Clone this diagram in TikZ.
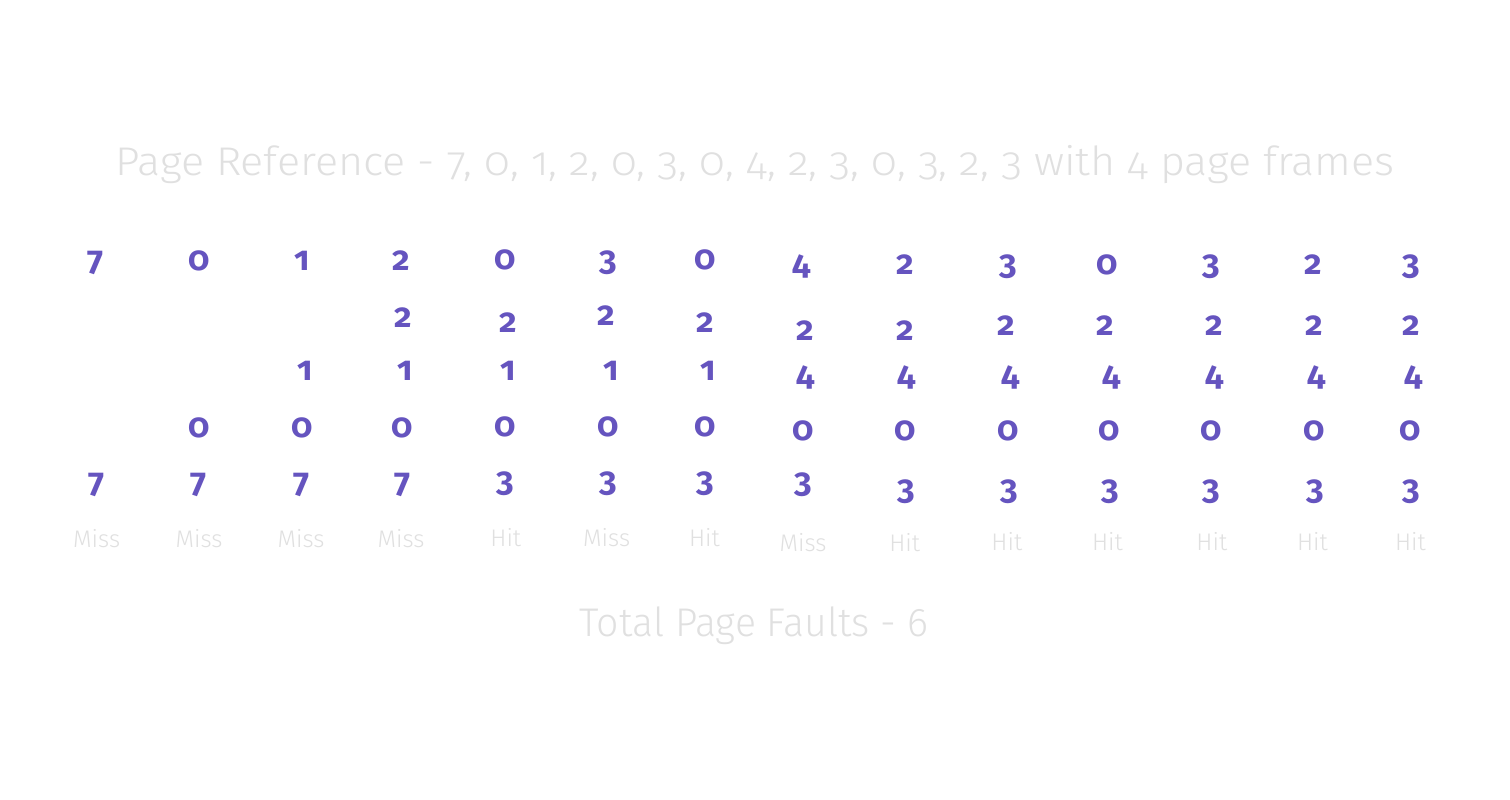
\documentclass[tikz,border=0pt]{standalone}
\usepackage{fontspec}
\setmainfont{Fira Sans Light}[Numbers=OldStyle]
\newfontfamily\numfont{Fira Sans Bold}[Numbers=OldStyle]
\definecolor{pur}{HTML}{6554BF}
\definecolor{lgray}{HTML}{E0E0E0}
\tikzset{
  num/.style={anchor=base, inner sep=0pt, text=pur, font=\numfont\fontsize{34}{40}\selectfont},
  lbl/.style={anchor=base, inner sep=0pt, text=lgray, font=\fontsize{24}{28}\selectfont},
  ttl/.style={anchor=base, inner sep=0pt, text=lgray, font=\fontsize{40}{48}\selectfont}
}
\begin{document}
\begin{tikzpicture}[x=1pt,y=-1pt]
\useasboundingbox (0,0) rectangle (1510,800);
\fill[white] (0,0) rectangle (1510,800);
\node[ttl] (title) at (755,175) {\scalebox{1.076}[1]{Page Reference - 7, 0, 1, 2, 0, 3, 0, 4, 2, 3, 0, 3, 2, 3 with 4 page frames}};
% row 1
\node[num] (r1c1) at (96,270) {7};
\node[num] (r1c2) at (199,270) {0};
\node[num] (r1c3) at (302.5,270) {1};
\node[num] (r1c4) at (401,270) {2};
\node[num] (r1c5) at (505.5,269) {0};
\node[num] (r1c6) at (608,270) {3};
\node[num] (r1c7) at (705,269) {0};
\node[num] (r1c8) at (802,274) {4};
\node[num] (r1c9) at (905,274) {2};
\node[num] (r1c10) at (1008,274) {3};
\node[num] (r1c11) at (1107,274) {0};
\node[num] (r1c12) at (1211.7,274) {3};
\node[num] (r1c13) at (1313.3,274) {2};
\node[num] (r1c14) at (1410.8,274) {3};
% row 2
\node[num] (r2c4) at (403.7,327) {2};
\node[num] (r2c5) at (508,332) {2};
\node[num] (r2c6) at (606.7,325) {2};
\node[num] (r2c7) at (705,332) {2};
\node[num] (r2c8) at (805,340) {2};
\node[num] (r2c9) at (905,340) {2};
\node[num] (r2c10) at (1006.7,335) {2};
\node[num] (r2c11) at (1105,335) {2};
\node[num] (r2c12) at (1214.3,335) {2};
\node[num] (r2c13) at (1314.3,335) {2};
\node[num] (r2c14) at (1410.8,335) {2};
% row 3
\node[num] (r3c3) at (305,380) {1};
\node[num] (r3c4) at (405,380) {1};
\node[num] (r3c5) at (508.3,380) {1};
\node[num] (r3c6) at (610.8,380) {1};
\node[num] (r3c7) at (708,380) {1};
\node[num] (r3c8) at (805.3,385) {4};
\node[num] (r3c9) at (907,385) {4};
\node[num] (r3c10) at (1010.5,385) {4};
\node[num] (r3c11) at (1111.3,385) {4};
\node[num] (r3c12) at (1214.5,385) {4};
\node[num] (r3c13) at (1316.3,385) {4};
\node[num] (r3c14) at (1413.7,385) {4};
% row 4
\node[num] (r4c2) at (199,437) {0};
\node[num] (r4c3) at (301.7,437) {0};
\node[num] (r4c4) at (402.5,437) {0};
\node[num] (r4c5) at (505.5,436) {0};
\node[num] (r4c6) at (608,436) {0};
\node[num] (r4c7) at (705,436) {0};
\node[num] (r4c8) at (802.8,440) {0};
\node[num] (r4c9) at (904.7,440) {0};
\node[num] (r4c10) at (1008,440) {0};
\node[num] (r4c11) at (1108.7,440) {0};
\node[num] (r4c12) at (1211.3,440) {0};
\node[num] (r4c13) at (1313.8,440) {0};
\node[num] (r4c14) at (1410.5,440) {0};
% row 5
\node[num] (r5c1) at (96.7,492) {7};
\node[num] (r5c2) at (199,492) {7};
\node[num] (r5c3) at (301.7,492) {7};
\node[num] (r5c4) at (402.5,492) {7};
\node[num] (r5c5) at (505.7,491) {3};
\node[num] (r5c6) at (608,491) {3};
\node[num] (r5c7) at (705,491) {3};
\node[num] (r5c8) at (802.8,492) {3};
\node[num] (r5c9) at (906,499) {3};
\node[num] (r5c10) at (1009,499) {3};
\node[num] (r5c11) at (1110,499) {3};
\node[num] (r5c12) at (1211.7,499) {3};
\node[num] (r5c13) at (1315,499) {3};
\node[num] (r5c14) at (1411.7,499) {3};
% labels
\node[lbl] (l1) at (96.7,547) {Miss};
\node[lbl] (l2) at (199,547) {Miss};
\node[lbl] (l3) at (301,547) {Miss};
\node[lbl] (l4) at (401,547) {Miss};
\node[lbl] (l5) at (505.8,546) {Hit};
\node[lbl] (l6) at (606.7,546) {Miss};
\node[lbl] (l7) at (704.5,546) {Hit};
\node[lbl] (l8) at (803,551) {Miss};
\node[lbl] (l9) at (904.7,551) {Hit};
\node[lbl] (l10) at (1006.8,550) {Hit};
\node[lbl] (l11) at (1107.5,550) {Hit};
\node[lbl] (l12) at (1211.8,550) {Hit};
\node[lbl] (l13) at (1312.5,550) {Hit};
\node[lbl] (l14) at (1410.5,550) {Hit};
\node[ttl] (total) at (754,636.7) {\scalebox{0.98}[1]{Total Page Faults - 6}};
\end{tikzpicture}
\end{document}
